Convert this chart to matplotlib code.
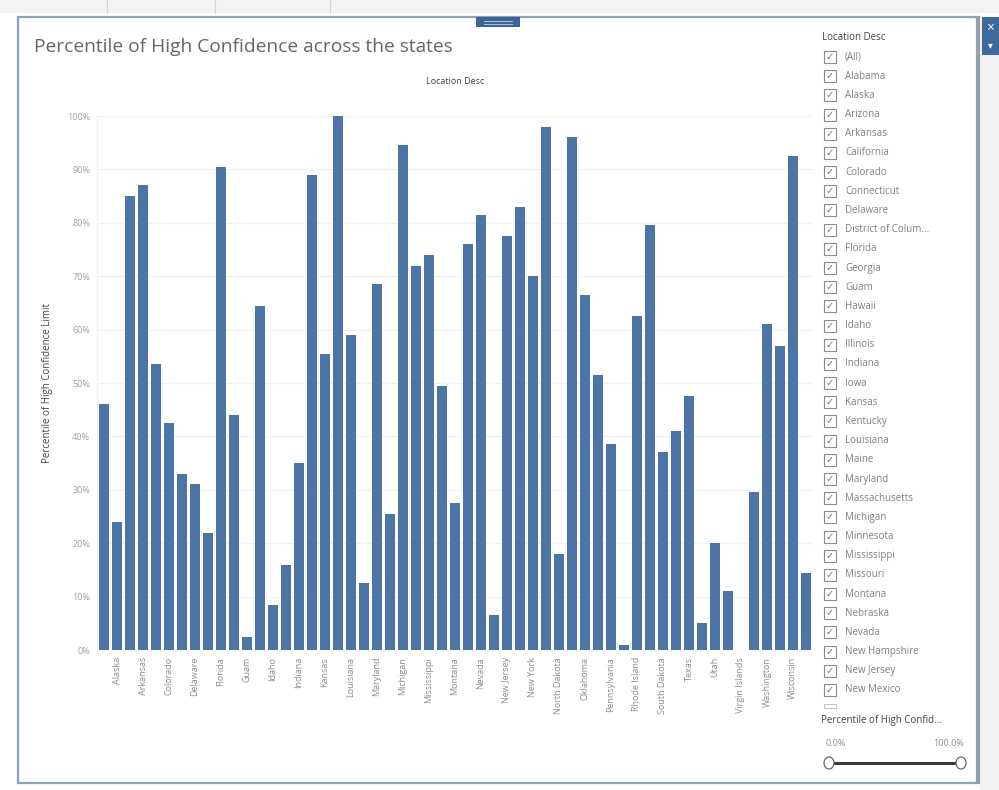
import numpy as np
import matplotlib
matplotlib.use("Agg")
import matplotlib.pyplot as plt
from matplotlib.patches import Rectangle, Ellipse
from matplotlib.lines import Line2D

plt.rcParams['font.family'] = ['Open Sans', 'DejaVu Sans']

# states in the order Tableau lists them
locations = ["Alabama", "Alaska", "Arizona", "Arkansas", "California", "Colorado",
             "Connecticut", "Delaware", "District of Columbia", "Florida", "Georgia",
             "Guam", "Hawaii", "Idaho", "Illinois", "Indiana", "Iowa", "Kansas",
             "Kentucky", "Louisiana", "Maine", "Maryland", "Massachusetts", "Michigan",
             "Minnesota", "Mississippi", "Missouri", "Montana", "Nebraska", "Nevada",
             "New Hampshire", "New Jersey", "New Mexico", "New York", "North Carolina",
             "North Dakota", "Ohio", "Oklahoma", "Oregon", "Pennsylvania", "Puerto Rico",
             "Rhode Island", "South Carolina", "South Dakota", "Tennessee", "Texas",
             "United States", "Utah", "Vermont", "Virgin Islands", "Virginia",
             "Washington", "West Virginia", "Wisconsin", "Wyoming"]

# percentile of high confidence limit (fraction), Virgin Islands has no value
pct_high = [0.46, 0.24, 0.85, 0.87, 0.535, 0.425, 0.33, 0.31, 0.22, 0.905,
            0.44, 0.025, 0.645, 0.085, 0.16, 0.35, 0.89, 0.555, 1.00, 0.59,
            0.125, 0.685, 0.255, 0.945, 0.72, 0.74, 0.495, 0.275, 0.76, 0.815,
            0.065, 0.775, 0.83, 0.70, 0.98, 0.18, 0.96, 0.665, 0.515, 0.385,
            0.01, 0.625, 0.795, 0.37, 0.41, 0.475, 0.05, 0.20, 0.11, np.nan,
            0.295, 0.61, 0.57, 0.925, 0.145]

y_ticks = np.arange(0, 1.01, 0.1)
y_tick_labels = [f"{int(round(t * 100))}%" for t in y_ticks]

filter_items = ["(All)", "Alabama", "Alaska", "Arizona", "Arkansas", "California",
                "Colorado", "Connecticut", "Delaware", "District of Colum...", "Florida",
                "Georgia", "Guam", "Hawaii", "Idaho", "Illinois", "Indiana", "Iowa",
                "Kansas", "Kentucky", "Louisiana", "Maine", "Maryland", "Massachusetts",
                "Michigan", "Minnesota", "Mississippi", "Missouri", "Montana", "Nebraska",
                "Nevada", "New Hampshire", "New Jersey", "New Mexico"]

W, H = 999, 790
fig = plt.figure(figsize=(W / 100, H / 100), dpi=100)
fig.patch.set_facecolor("white")


def fx(x):
    return x / W


def fy(y):
    return 1 - y / H


def ftext(x, y, s, **kw):
    fig.text(fx(x), fy(y), s, **kw)


# toolbar strip and dashboard frame
fig.add_artist(Rectangle((0, fy(13)), 1, 13 / H, transform=fig.transFigure,
                         facecolor="#f3f3f3", edgecolor="none", zorder=0))
for sx in [107, 215, 330]:
    fig.add_artist(Line2D([fx(sx), fx(sx)], [fy(13), 1], transform=fig.transFigure,
                          color="#d6d6d6", lw=0.8))
fig.add_artist(Rectangle((fx(18), fy(783)), fx(977) - fx(18), (783 - 17) / H,
                         transform=fig.transFigure, facecolor="white",
                         edgecolor="#8ea3ba", lw=1.6, zorder=0.5))
fig.add_artist(Rectangle((fx(476), fy(27)), 44 / W, 10 / H, transform=fig.transFigure,
                         facecolor="#3c6496", edgecolor="none", zorder=2))
for gy in [21, 24]:
    fig.add_artist(Line2D([fx(484), fx(512)], [fy(gy), fy(gy)], transform=fig.transFigure,
                          color="#c9d6e6", lw=0.6, zorder=3))

# right side strip with close / menu buttons
fig.add_artist(Rectangle((fx(980), 0), 19 / W, fy(17), transform=fig.transFigure,
                         facecolor="#f1f2f4", edgecolor="none", zorder=0.4))
fig.add_artist(Line2D([fx(979), fx(979)], [fy(783), fy(17)], transform=fig.transFigure,
                      color="#9a9a9a", lw=1.5))
fig.add_artist(Rectangle((fx(982), fy(55)), 17 / W, 38 / H, transform=fig.transFigure,
                         facecolor="#3d6a9a", edgecolor="none", zorder=2))
ftext(990, 28, "×", color="white", fontsize=10, ha="center", va="center", zorder=3)
ftext(990, 45, "▾", color="white", fontsize=7, ha="center", va="center", zorder=3,
      family=["DejaVu Sans"])

# title
ftext(34, 47, "Percentile of High Confidence across the states", fontsize=13.8,
      color="#666666", va="center", ha="left")
ftext(455, 81, "Location Desc", fontsize=6.5, color="#444444", ha="center", va="center")

# bar chart
ax = fig.add_axes([fx(97), fy(650), (813 - 97) / W, (650 - 116) / H])
ax.set_zorder(5)
ax.patch.set_alpha(0)
x = np.arange(len(locations))
ax.bar(x, pct_high, width=0.76, color="#4c75a6", zorder=2)
ax.set_xlim(-0.55, len(locations) - 0.45)
ax.set_ylim(0, 1.0)
ax.set_yticks(y_ticks)
ax.set_yticklabels(y_tick_labels, fontsize=6.5, color="#a0a0a0")
ax.yaxis.grid(True, color="#f0f0f0", lw=0.8, zorder=0)
ax.set_xticks(x[1::2])
ax.set_xticklabels(locations[1::2], rotation=90, fontsize=6.5, color="#8c8c8c",
                   va="top", ha="center")
ax.tick_params(length=0, pad=5)
for side in ["top", "right", "bottom"]:
    ax.spines[side].set_visible(False)
ax.spines["left"].set_color("#f0f0f0")
ax.set_ylabel("Percentile of High Confidence Limit", fontsize=7, color="#444444")
ax.yaxis.set_label_coords(-0.062, 0.5)

# filter card
ftext(822, 38, "Location Desc", fontsize=7, color="#444444", va="center")
step = (690 - 57) / (len(filter_items) - 1)
for i, item in enumerate(filter_items):
    cy = 57 + i * step
    fig.add_artist(Rectangle((fx(824), fy(cy + 6)), 12 / W, 12 / H,
                             transform=fig.transFigure, facecolor="white",
                             edgecolor="#8c8c8c", lw=0.8, zorder=3))
    ftext(830, cy, "✓", fontsize=7, color="#707070", ha="center", va="center",
          family=["DejaVu Sans"], zorder=4)
    ftext(845, cy, item, fontsize=7, color="#808080", va="center")
# partially hidden next entry
fig.add_artist(Rectangle((fx(824), fy(708)), 12 / W, 4 / H, transform=fig.transFigure,
                         facecolor="white", edgecolor="#bbbbbb", lw=0.6, zorder=3))

ftext(821, 721, "Percentile of High Confid...", fontsize=7, color="#444444", va="center")
ftext(826, 743, "0.0%", fontsize=6.5, color="#8c8c8c", va="center")
ftext(964, 743, "100.0%", fontsize=6.5, color="#8c8c8c", va="center", ha="right")
fig.add_artist(Line2D([fx(829), fx(961)], [fy(763), fy(763)], transform=fig.transFigure,
                      color="#3a3a3a", lw=2.2, zorder=3))
for hx in [829, 961]:
    fig.add_artist(Ellipse((fx(hx), fy(763)), 10 / W, 12 / H, transform=fig.transFigure,
                           facecolor="white", edgecolor="#666666", lw=0.9, zorder=4))

fig.savefig("out.png", dpi=100, facecolor=fig.get_facecolor())
